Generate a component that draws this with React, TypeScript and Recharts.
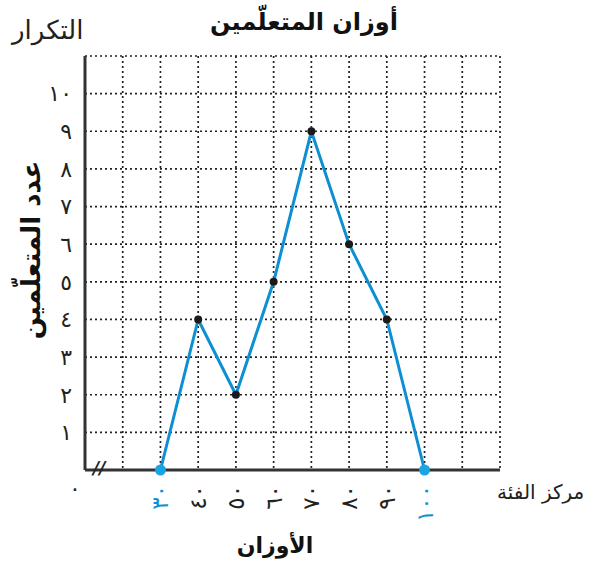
import React from 'react';
import { LineChart, Line, XAxis, YAxis, CartesianGrid } from 'recharts';

// class centres (kg) and number of learners
const weightCenters = [30, 40, 50, 60, 70, 80, 90, 100];
const learnerCounts = [0, 4, 2, 5, 9, 6, 4, 0];

const xTicks = [10, 20, 30, 40, 50, 60, 70, 80, 90, 100, 110, 120];
const yTicks = [0, 1, 2, 3, 4, 5, 6, 7, 8, 9, 10, 11];

const title = 'أوزان المتعلّمين';
const freqLabel = 'التكرار';
const yLabel = 'عدد المتعلّمين';
const xLabel = 'مركز الفئة';
const xTitle = 'الأوزان';

const data = weightCenters.map((w, i) => ({ weight: w, count: learnerCounts[i] }));

const FONT = '"DejaVu Sans", sans-serif';
const BLUE = '#0d8fd2';
const DOT_BLUE = '#1aa4e2';

const arabicDigits = (n: number) => String(n).replace(/\d/g, d => '٠١٢٣٤٥٦٧٨٩'[Number(d)]);

const XTick = (props: any) => {
  const { x, y, payload } = props;
  const v = payload.value;
  if (v === 10) {
    return (
      <text x={x - 10} y={y + 24} textAnchor="middle" fontSize={22} fontFamily={FONT} fill="#222">
        {arabicDigits(0)}
      </text>
    );
  }
  if (v < 30 || v > 100) return <g />;
  const edge = v === weightCenters[0] || v === weightCenters[weightCenters.length - 1];
  return (
    <text
      x={x}
      y={y + 13}
      transform={`rotate(-90 ${x} ${y + 13})`}
      textAnchor="end"
      dominantBaseline="central"
      fontSize={23}
      fontFamily={FONT}
      fill={edge ? BLUE : '#222'}
      direction="ltr"
    >
      {arabicDigits(v)}
    </text>
  );
};

const renderDot = (props: any) => {
  const { cx, cy, payload, index } = props;
  if (payload.count === 0) {
    return <circle key={index} cx={cx} cy={cy} r={5.5} fill={DOT_BLUE} stroke="none" />;
  }
  return <circle key={index} cx={cx} cy={cy} r={4} fill="#1a1a1a" stroke="none" />;
};

export default function App() {
  return (
    <div style={{ position: 'absolute', left: 0, top: 0, width: 602, height: 572, background: '#fff', fontFamily: FONT }}>
      <LineChart
        width={602}
        height={572}
        data={data}
        margin={{ top: 56, right: 102, bottom: 0, left: 0 }}
      >
        <CartesianGrid stroke="#222" strokeDasharray="2 3" strokeWidth={1.7} />
        <XAxis
          type="number"
          dataKey="weight"
          domain={[10, 120]}
          ticks={xTicks}
          interval={0}
          height={102}
          tickLine={false}
          axisLine={{ stroke: '#333', strokeWidth: 3 }}
          tick={<XTick />}
          tickSize={0}
        />
        <YAxis
          type="number"
          domain={[0, 11]}
          ticks={yTicks}
          interval={0}
          width={85}
          tickLine={false}
          tickSize={0}
          tickMargin={13}
          axisLine={{ stroke: '#333', strokeWidth: 3 }}
          tick={{ fontSize: 22, fill: '#222', fontFamily: FONT }}
          tickFormatter={(v: number) => (v >= 1 && v <= 10 ? arabicDigits(v) : '')}
        />
        <Line
          type="linear"
          dataKey="count"
          stroke={BLUE}
          strokeWidth={3}
          dot={renderDot}
          activeDot={false}
          isAnimationActive={false}
        />
      </LineChart>

      <div style={{ position: 'absolute', left: 0, width: 608, top: 8, textAlign: 'center', fontSize: 24, fontWeight: 'bold', color: '#111' }}>
        {title}
      </div>
      <div style={{ position: 'absolute', left: 12, top: 15, fontSize: 26, color: '#222' }}>{freqLabel}</div>
      <div
        style={{
          position: 'absolute',
          left: 31,
          top: 250,
          transform: 'translate(-50%, -50%) rotate(-90deg)',
          whiteSpace: 'nowrap',
          fontSize: 26,
          fontWeight: 'bold',
          color: '#111',
        }}
      >
        {yLabel}
      </div>
      <div style={{ position: 'absolute', left: 93, top: 458, fontSize: 17, fontStyle: 'italic', fontWeight: 'bold', color: '#222' }}>//</div>
      <div style={{ position: 'absolute', left: 497, top: 480, fontSize: 20, color: '#222' }}>{xLabel}</div>
      <div style={{ position: 'absolute', left: 0, width: 550, top: 533, textAlign: 'center', fontSize: 22, fontWeight: 'bold', color: '#111' }}>
        {xTitle}
      </div>
    </div>
  );
}
